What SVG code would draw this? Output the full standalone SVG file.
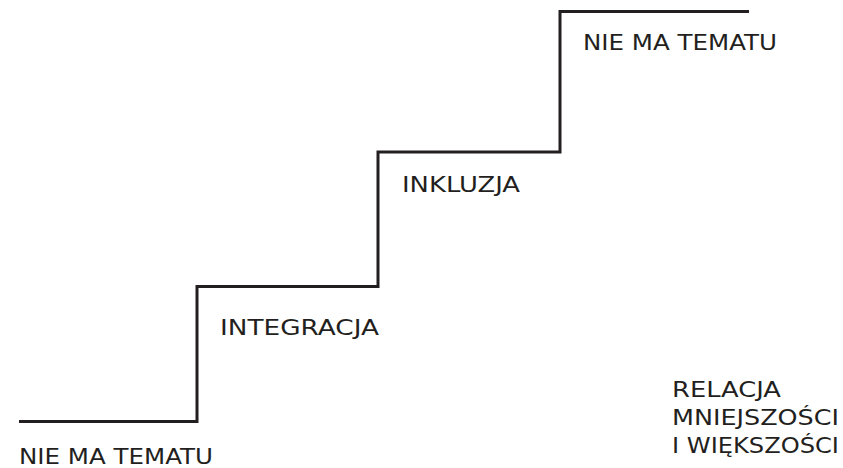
<svg xmlns="http://www.w3.org/2000/svg" width="843" height="468" viewBox="0 0 843 468">
<style>
.lbl{font-family:"DejaVu Sans","Liberation Sans",sans-serif;font-size:21px;fill:#231f20;}
.step{fill:none;stroke:#231f20;stroke-width:3;stroke-linejoin:miter;}
</style>
<rect width="843" height="468" fill="#ffffff"/>
<g id="connectors">
<path class="step" d="M19,421.5 H197 V286.5 H378 V152 H560 V11.5 H749"/>
</g>
<g id="n-bottom"><text class="lbl" x="19" y="464" textLength="194" lengthAdjust="spacingAndGlyphs">NIE MA TEMATU</text></g>
<g id="n-integracja"><text class="lbl" x="220" y="335" textLength="159" lengthAdjust="spacingAndGlyphs">INTEGRACJA</text></g>
<g id="n-inkluzja"><text class="lbl" x="402" y="192" textLength="118" lengthAdjust="spacingAndGlyphs">INKLUZJA</text></g>
<g id="n-top"><text class="lbl" x="583" y="50" textLength="194" lengthAdjust="spacingAndGlyphs">NIE MA TEMATU</text></g>
<g id="n-relacja">
<text class="lbl" x="672" y="397" textLength="109" lengthAdjust="spacingAndGlyphs">RELACJA</text>
<text class="lbl" x="672" y="425" textLength="167" lengthAdjust="spacingAndGlyphs">MNIEJSZOŚCI</text>
<text class="lbl" x="672" y="453" textLength="167" lengthAdjust="spacingAndGlyphs">I WIĘKSZOŚCI</text>
</g>
</svg>
